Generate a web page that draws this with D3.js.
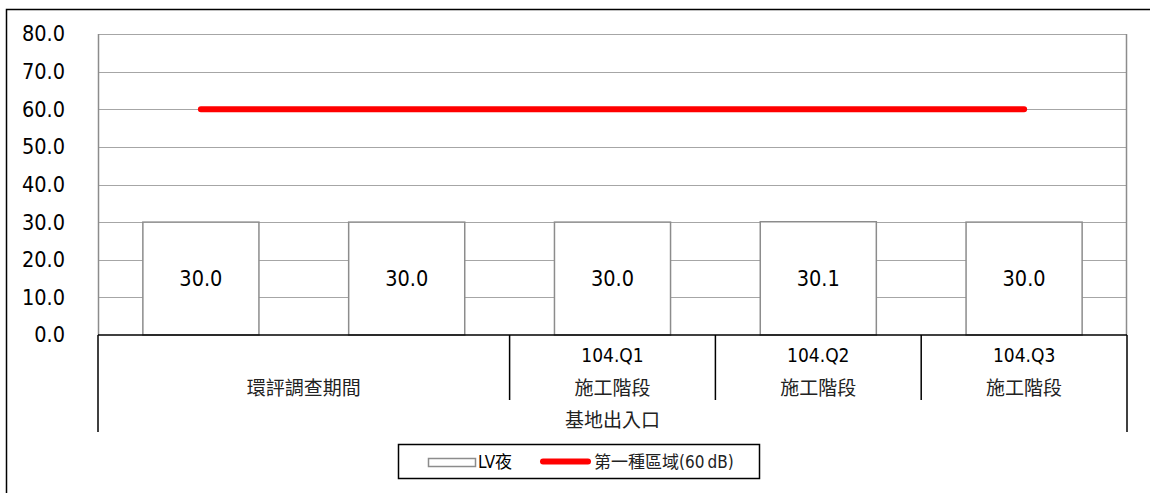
<!DOCTYPE html>
<html>
<head>
<meta charset="utf-8">
<script src="https://cdn.jsdelivr.net/npm/d3@7"></script>
<style>
  html, body { margin: 0; padding: 0; background: #fff; overflow: hidden; }
  svg { display: block; }
</style>
</head>
<body>
<svg id="chart" width="1150" height="493"></svg>
<script>
// ---- data ----
const categories = ["c1", "c2", "c3", "c4", "c5"];
const quarterLabels = ["", "", "104.Q1", "104.Q2", "104.Q3"];
const phaseLabels = ["環評調查期間", "環評調查期間", "施工階段", "施工階段", "施工階段"];
const siteLabel = "基地出入口";
const lvNight = [30.0, 30.0, 30.0, 30.1, 30.0];
const standard60 = [60, 60, 60, 60, 60];
const yTicks = [0, 10, 20, 30, 40, 50, 60, 70, 80];
const seriesNames = ["LV夜", "第一種區域(60\u2009dB)"];

(function () {
// ---- layout ----
const LATIN = "'DejaVu Sans Condensed', 'DejaVu Sans', 'Noto Sans CJK TC', sans-serif";
const CJK = "'Noto Sans CJK TC', 'DejaVu Sans', sans-serif";
const svg = d3.select("#chart");
const pLeft = 98, pRight = 1127, pTop = 34, pBottom = 335;

// outer border (only top and left edges fall inside the picture)
svg.append("path").attr("d", "M6.5,493 L6.5,9.5 L1150,9.5")
  .attr("fill", "none").attr("stroke", "#000").attr("stroke-width", 1.5);

const x = d3.scaleBand().domain(categories).range([pLeft, pRight]).paddingInner(0.436).paddingOuter(0.218);
const y = d3.scaleLinear().domain([0, 80]).range([pBottom, pTop]);

// gridlines
svg.append("g").selectAll("line").data(yTicks.filter(t => t > 0)).join("line")
  .attr("x1", pLeft).attr("x2", pRight)
  .attr("y1", d => Math.round(y(d)) + 0.5).attr("y2", d => Math.round(y(d)) + 0.5)
  .attr("stroke", "#a6a6a6").attr("stroke-width", 1.2);
// plot area left/right border
svg.append("line").attr("x1", pLeft + 0.5).attr("x2", pLeft + 0.5).attr("y1", pTop).attr("y2", pBottom)
  .attr("stroke", "#8c8c8c").attr("stroke-width", 1.5);
svg.append("line").attr("x1", pRight - 0.5).attr("x2", pRight - 0.5).attr("y1", pTop).attr("y2", pBottom)
  .attr("stroke", "#8c8c8c").attr("stroke-width", 1.5);

// y axis labels
const yAxis = d3.axisLeft(y).tickValues(yTicks).tickFormat(d3.format(".1f")).tickSize(0).tickPadding(33);
const ya = svg.append("g").attr("transform", `translate(${pLeft},0)`).call(yAxis);
ya.select(".domain").remove();
ya.selectAll("text").attr("font-family", LATIN).attr("font-size", 21.5).attr("fill", "#000");

// bars
svg.append("g").selectAll("rect").data(lvNight).join("rect")
  .attr("x", (d, i) => x(categories[i]))
  .attr("y", d => y(d))
  .attr("width", x.bandwidth())
  .attr("height", d => pBottom - y(d))
  .attr("fill", "#fff").attr("stroke", "#8c8c8c").attr("stroke-width", 1.5);

// bar labels
svg.append("g").selectAll("text").data(lvNight).join("text")
  .attr("x", (d, i) => x(categories[i]) + x.bandwidth() / 2)
  .attr("y", d => (y(d) + pBottom) / 2)
  .attr("dy", "0.36em")
  .attr("text-anchor", "middle")
  .attr("font-family", LATIN).attr("font-size", 21.5).attr("fill", "#000")
  .text(d => d3.format(".1f")(d));

// standard line
const line = d3.line().x((d, i) => x(categories[i]) + x.bandwidth() / 2).y(d => y(d));
svg.append("path").datum(standard60).attr("d", line)
  .attr("fill", "none").attr("stroke", "#ff0000").attr("stroke-width", 6).attr("stroke-linecap", "round");

// category axis
svg.append("line").attr("x1", pLeft).attr("x2", pRight).attr("y1", pBottom).attr("y2", pBottom)
  .attr("stroke", "#000").attr("stroke-width", 1.5);
const step = x.step();
const boundaryX = i => pLeft + i * step;
// outer vertical lines
[0, categories.length].forEach(i => {
  svg.append("line").attr("x1", boundaryX(i)).attr("x2", boundaryX(i)).attr("y1", pBottom).attr("y2", 432)
    .attr("stroke", "#000").attr("stroke-width", 1.5);
});
// inner separators
for (let i = 1; i < categories.length; i++) {
  if (phaseLabels[i] === phaseLabels[i - 1] && quarterLabels[i] === quarterLabels[i - 1]) continue;
  svg.append("line").attr("x1", boundaryX(i)).attr("x2", boundaryX(i)).attr("y1", pBottom).attr("y2", 400)
    .attr("stroke", "#000").attr("stroke-width", 1.5);
}
// quarter labels
svg.append("g").selectAll("text").data(quarterLabels).join("text")
  .attr("x", (d, i) => x(categories[i]) + x.bandwidth() / 2)
  .attr("y", 355).attr("dy", "0.36em").attr("text-anchor", "middle")
  .attr("font-family", LATIN).attr("font-size", 19).attr("fill", "#000")
  .text(d => d);
// phase labels (merged groups)
const groups = [];
phaseLabels.forEach((p, i) => {
  const g = groups[groups.length - 1];
  if (g && g.label === p && quarterLabels[i] === quarterLabels[g.start]) g.end = i;
  else groups.push({ label: p, start: i, end: i });
});
svg.append("g").selectAll("text").data(groups).join("text")
  .attr("x", g => (boundaryX(g.start) + boundaryX(g.end + 1)) / 2)
  .attr("y", 388).attr("dy", "0.36em").attr("text-anchor", "middle")
  .attr("font-family", CJK).attr("font-size", 19).attr("fill", "#222")
  .text(g => g.label);
svg.append("text").attr("x", (pLeft + pRight) / 2).attr("y", 420).attr("dy", "0.36em")
  .attr("text-anchor", "middle").attr("font-family", CJK).attr("font-size", 19).attr("fill", "#222")
  .text(siteLabel);

// legend
const lg = svg.append("g");
lg.append("rect").attr("x", 398.5).attr("y", 444.5).attr("width", 361).attr("height", 34)
  .attr("fill", "#fff").attr("stroke", "#000").attr("stroke-width", 1.5);
lg.append("rect").attr("x", 428.5).attr("y", 458.5).attr("width", 47).attr("height", 8)
  .attr("fill", "#fff").attr("stroke", "#8c8c8c").attr("stroke-width", 1.5);
lg.append("text").attr("x", 478).attr("y", 462).attr("dy", "0.36em")
  .attr("font-family", LATIN).attr("font-size", 17).attr("fill", "#000").text(seriesNames[0]);
lg.append("line").attr("x1", 543).attr("x2", 588).attr("y1", 461.5).attr("y2", 461.5)
  .attr("stroke", "#ff0000").attr("stroke-width", 6).attr("stroke-linecap", "round");
lg.append("text").attr("x", 594).attr("y", 462).attr("dy", "0.36em")
  .attr("font-family", LATIN).attr("font-size", 17).attr("fill", "#222").text(seriesNames[1]);
})();
</script>
</body>
</html>
